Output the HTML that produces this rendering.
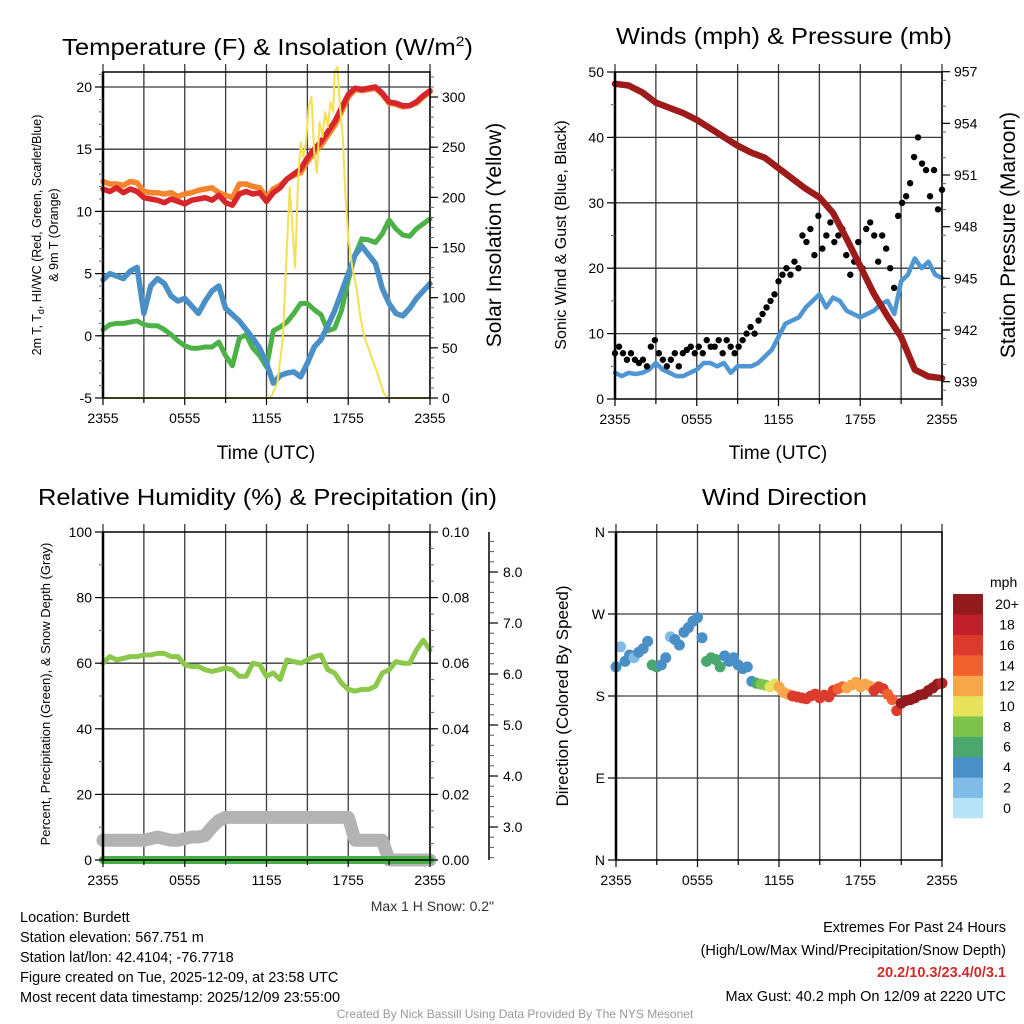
<!DOCTYPE html>
<html><head><meta charset="utf-8"><style>
html,body{margin:0;padding:0;background:#fff;}
svg{display:block;font-family:"Liberation Sans",sans-serif;}
</style></head><body>
<svg id="chart" width="1024" height="1024" viewBox="0 0 1024 1024">
<rect x="0" y="0" width="1024" height="1024" fill="#fff"/>
<g id="grid"></g>
<g id="series"></g>
<g id="axes"></g>
<g id="labels"></g>
<text x="62" y="55" font-size="23" textLength="411" lengthAdjust="spacingAndGlyphs">Temperature (F) &amp; Insolation (W/m<tspan font-size="14" dy="-9">2</tspan><tspan dy="9">)</tspan></text>
<text x="616" y="44" font-size="23" textLength="336" lengthAdjust="spacingAndGlyphs">Winds (mph) &amp; Pressure (mb)</text>
<text x="38" y="505" font-size="23" textLength="459" lengthAdjust="spacingAndGlyphs">Relative Humidity (%) &amp; Precipitation (in)</text>
<text x="702" y="505" font-size="23" textLength="165" lengthAdjust="spacingAndGlyphs">Wind Direction</text>
<text x="266" y="459" font-size="19" text-anchor="middle">Time (UTC)</text>
<text x="778" y="459" font-size="19" text-anchor="middle">Time (UTC)</text>
<text transform="translate(41,235) rotate(-90)" font-size="12.5" text-anchor="middle">2m T, T<tspan font-size="9" dy="3">d</tspan><tspan dy="-3">, HI/WC (Red, Green, Scarlet/Blue)</tspan></text>
<text transform="translate(58,235) rotate(-90)" font-size="12.5" text-anchor="middle">&amp; 9m T (Orange)</text>
<text transform="translate(501,235) rotate(-90)" font-size="21" text-anchor="middle">Solar Insolation (Yellow)</text>
<text transform="translate(566,235) rotate(-90)" font-size="16" text-anchor="middle">Sonic Wind &amp; Gust (Blue, Black)</text>
<text transform="translate(1015,235) rotate(-90)" font-size="21" text-anchor="middle">Station Pressure (Maroon)</text>
<text transform="translate(50,694) rotate(-90)" font-size="13" text-anchor="middle">Percent, Precipitation (Green), &amp; Snow Depth (Gray)</text>
<text transform="translate(568,696) rotate(-90)" font-size="17" text-anchor="middle">Direction (Colored By Speed)</text>
<text x="990" y="587" font-size="14">mph</text>
<text x="494" y="911" font-size="14" text-anchor="end" fill="#333">Max 1 H Snow: 0.2"</text>
<g font-size="14.5">
<text x="20" y="922">Location: Burdett</text>
<text x="20" y="942">Station elevation: 567.751 m</text>
<text x="20" y="962">Station lat/lon: 42.4104; -76.7718</text>
<text x="20" y="982">Figure created on Tue, 2025-12-09, at 23:58 UTC</text>
<text x="20" y="1002">Most recent data timestamp: 2025/12/09 23:55:00</text>
</g>
<g font-size="14.5" text-anchor="end">
<text x="1006" y="932">Extremes For Past 24 Hours</text>
<text x="1006" y="955">(High/Low/Max Wind/Precipitation/Snow Depth)</text>
<text x="1006" y="977" fill="#d42a2a" font-weight="bold">20.2/10.3/23.4/0/3.1</text>
<text x="1006" y="1001">Max Gust: 40.2 mph On 12/09 at 2220 UTC</text>
</g>
<text x="515" y="1018" font-size="12" fill="#999" text-anchor="middle">Created By Nick Bassill Using Data Provided By The NYS Mesonet</text>
</svg>
<script>
const timeLabels = ["2355","0555","1155","1755","2355"];
const tempRed = [11.8,11.6,11.9,11.5,11.8,11.6,11.1,11.0,10.9,10.7,11.0,10.8,10.6,10.9,11.0,11.1,10.9,11.3,10.7,10.5,11.4,11.6,11.4,11.5,10.8,11.5,11.9,12.6,13.0,13.4,14.3,15.0,15.6,16.4,17.2,18.3,19.4,19.9,19.8,19.9,20.0,19.5,18.8,18.7,18.5,18.5,18.8,19.3,19.7];
const temp9m = [12.4,12.2,12.2,12.1,12.4,12.3,11.6,11.5,11.5,11.4,11.5,11.2,11.4,11.5,11.7,11.8,11.9,11.5,11.3,11.1,12.2,12.2,12.0,11.9,11.1,11.8,12.1,12.6,12.9,13.1,14.0,14.7,15.3,16.1,16.9,18.0,19.2,19.8,19.7,19.8,19.9,19.4,18.7,18.6,18.4,18.5,18.7,19.2,19.6];
const windChill = [4.5,5.0,4.8,4.6,5.2,5.5,1.8,4.0,4.6,4.2,3.2,2.8,3.0,2.4,1.8,2.8,3.6,4.0,2.2,1.7,1.2,0.5,-0.2,-1.0,-2.2,-3.8,-3.2,-3.0,-2.9,-3.3,-2.2,-0.9,-0.3,0.8,2.0,3.5,5.0,6.5,7.2,6.5,5.8,3.8,2.6,1.8,1.6,2.2,3.0,3.6,4.2];
const dewpoint = [0.5,0.9,1.0,1.0,1.1,1.2,0.9,0.8,0.8,0.5,0.1,-0.4,-0.8,-1.0,-1.0,-0.9,-0.9,-0.5,-1.6,-2.4,-0.2,0.1,-1.0,-1.6,-2.5,0.4,0.7,1.1,1.8,2.6,2.6,2.1,1.7,0.4,0.6,2.0,4.5,6.5,7.8,7.7,7.5,8.2,9.3,8.6,8.1,8.0,8.6,9.0,9.4];
const solarHours = [0,12.3,12.8,13.2,13.5,13.7,13.9,14.1,14.3,14.5,14.7,14.9,15.1,15.3,15.5,15.7,15.9,16.1,16.3,16.5,16.7,16.9,17.0,17.2,17.4,17.6,17.8,18.0,18.3,18.6,18.9,19.2,19.6,20.0,20.3,20.6,20.9,24];
const solarValues = [0,0,15,60,150,210,170,130,210,255,240,255,290,300,245,225,275,260,285,270,295,285,325,330,290,260,200,160,130,110,80,60,45,30,18,5,0,0];
const pressure = [956.3,956.2,955.8,955.2,954.9,954.6,954.2,953.7,953.2,952.7,952.3,952.0,951.4,950.8,950.2,949.7,948.8,947.3,945.7,944.1,942.8,941.6,939.7,939.3,939.2];
const windSpeed = [4,3.5,4,3.8,4,4.5,5.5,4.5,4,3.5,3.5,4,4.5,5.5,5.5,5,5.5,4,5,5,5,5.5,6.5,7.5,9.5,11.5,12,12.5,14,15,16,14,15.5,15,13.5,13,12.5,13,13.5,14.5,15,13,18,19,21.5,20,21,19,18.5];
const windGust = [7,8,7,6,7,6,5.5,6,5,8,9,7,6,5,6,7,5,7,7.5,8,7,8,7,9,8,8,9,7,9,8,7,8,9,10,11,10,12,13,14,15,16,18,19,20,19,21,20,25,24,26,22,28,23,25,27,24,25,26,22,19,21,24,20,26,27,25,21,25,23,20,17,28,30,31,33,37,40,36,35,31,35,29,32];
const relHumidity = [60,62,61,61.5,62,62,62.5,62.5,63,63,62,62,59.5,59,59,58,57.5,58,58.5,58,56,56,60,59.5,56,57,55,61,60.5,60,61,62,62.5,58,57,54,52,51.5,52,52,53,57,58,60.5,60,60,64,67,64];
const snowDepthPct = [6,6,6,6,6,6,6,6.5,7,6.5,6,6,6.5,7,7,7.5,10,12,13,13,13,13,13,13,13,13,13,13,13,13,13,13,13,13,13,13,13,6,6,6,6,6,0,0,0,0,0,0,0];
const precip = [0,0,0,0,0,0,0,0,0,0,0,0,0,0,0,0,0,0,0,0,0,0,0,0,0,0,0,0,0,0,0,0,0,0,0,0,0,0,0,0,0,0,0,0,0,0,0,0,0];
const windDir = [212,234,218,225,222,228,232,240,214,212,214,222,245,242,236,250,255,262,266,244,218,222,220,212,224,218,222,214,210,212,196,194,193,192,190,193,190,184,182,180,179,178,177,180,182,178,181,179,186,188,190,189,192,195,190,193,191,186,190,188,182,176,164,172,175,176,178,181,182,186,189,193,194];
const dirSpeed = [4,3,4,4,3,4,4,4,6,6,4,4,3,4,4,4,4,4,4,5,7,6,7,6,5,4,4,4,4,4,5,7,8,9,10,11,13,12,13,17,17,16,17,16,17,16,17,16,16,15,14,13,13,12,13,12,13,16,17,16,15,14,16,20,21,21,21,20,21,20,21,20,19];
const colorbarLabels = ["0","2","4","6","8","10","12","14","16","18","20+"];
const colorbarColors = ["#b6e3f7","#80bce6","#4a8fc6","#4aa86f","#7cc24b","#e6e25a","#f7a64a","#f0612e","#dc3a2c","#c0202a","#931b1e"];

const NS="http://www.w3.org/2000/svg";
function mk(parent,tag,attrs){const e=document.createElementNS(NS,tag);for(const k in attrs)e.setAttribute(k,attrs[k]);parent.appendChild(e);return e;}
const G=document.getElementById('grid'),S=document.getElementById('series'),A=document.getElementById('axes'),L=document.getElementById('labels');

const P1={x0:103,x1:430,y0:72,y1:398},P2={x0:615,x1:942,y0:72,y1:399},P3={x0:103,x1:430,y0:532,y1:860},P4={x0:616,x1:942,y0:532,y1:860};
const xH=(P,h)=>P.x0+(P.x1-P.x0)*h/24;
const yTemp=v=>P1.y1-(v+5)*12.44;
const ySol=v=>P1.y1-v*1.0033;
const yWind=v=>P2.y1-v*6.54;
const yPres=p=>71.7+(957-p)*17.22;
const yRH=v=>P3.y1-v*3.28;
const yPrec=v=>P3.y1-v*3280;
const ySnow=v=>827-(v-3)*51;
const yDir=d=>P4.y1-d*(P4.y1-P4.y0)/360;

function frame(P,name,hLines){
  for(let h=0;h<=24;h+=3){const x=xH(P,h);
    const l=mk(G,'line',{x1:x,x2:x,y1:P.y0-8,y2:P.y1,stroke:'#3a3a3a','stroke-width':1.3});
    
    
    const t=mk(A,'line',{x1:x,x2:x,y1:P.y1,y2:P.y1+(h%6===0?7:5),stroke:'#000','stroke-width':1.2});
    
    }
  hLines.forEach(y=>{const l=mk(G,'line',{x1:P.x0,x2:P.x1,y1:y,y2:y,stroke:'#3a3a3a','stroke-width':1.3});
    
    });
  const b=mk(A,'rect',{x:P.x0,y:P.y0,width:P.x1-P.x0,height:P.y1-P.y0,fill:'none',stroke:'#000','stroke-width':1.5});
  
  
  mk(A,'line',{x1:P.x0,x2:P.x0,y1:P.y0,y2:P.y1,stroke:'#000','stroke-width':2.5});
  timeLabels.forEach((s,i)=>{const t=mk(L,'text',{x:xH(P,i*6),y:P.y1+25,'font-size':14,'text-anchor':'middle'});t.textContent=s;
    
    });
}
function yAxis(P,side,vals,fy,labels,name,minor){
  const x=side==='l'?P.x0:P.x1;
  minor.forEach(v=>{const y=fy(v);mk(A,'line',{x1:x,x2:x+(side==='l'?-4:4),y1:y,y2:y,stroke:'#666','stroke-width':1});});
  vals.forEach((v,i)=>{const y=fy(v);
    const tk=mk(A,'line',{x1:x,x2:x+(side==='l'?-8:8),y1:y,y2:y,stroke:'#000','stroke-width':1.2});
    
    
    const t=mk(L,'text',{x:side==='l'?x-11:x+12,y:y+5,'font-size':14,'text-anchor':side==='l'?'end':'start'});t.textContent=labels[i];
    
    });
}
function rng(a,b,s){const r=[];for(let v=a;v<=b+1e-9;v+=s)r.push(+v.toFixed(4));return r;}
function line(pts,color,w,name){
  const p=mk(S,'path',{d:'M'+pts.map(q=>q[0].toFixed(1)+','+q[1].toFixed(1)).join('L'),fill:'none',stroke:color,'stroke-width':w,'stroke-linejoin':'round','stroke-linecap':'round'});
  
  
  return p;
}
const half=(arr,P,fy)=>arr.map((v,i)=>[xH(P,i*24/(arr.length-1)),fy(v)]);

frame(P1,'temp',[20,15,10,5,0].map(yTemp));
yAxis(P1,'l',[20,15,10,5,0,-5],yTemp,["20","15","10","5","0","-5"],'temp-y',rng(-5,21,1));
yAxis(P1,'r',[0,50,100,150,200,250,300],ySol,["0","50","100","150","200","250","300"],'solar-y',rng(0,320,10));
line(half(dewpoint,P1,yTemp),'#4cb146',5,'dewpoint-line');
line(half(windChill,P1,yTemp),'#4a8fc6',5.5,'wind-chill-line');
line(half(temp9m,P1,yTemp),'#f5842c',5.5,'temp-9m-line');
line(half(tempRed,P1,yTemp),'#d7262b',5.5,'temp-2m-line');
line(solarHours.map((h,i)=>[xH(P1,h),ySol(solarValues[i])]),'#f5e050',2,'solar-line');

frame(P2,'wind',[40,30,20,10].map(yWind));
yAxis(P2,'l',[0,10,20,30,40,50],yWind,["0","10","20","30","40","50"],'wind-y',rng(0,50,5));
yAxis(P2,'r',[939,942,945,948,951,954,957],yPres,["939","942","945","948","951","954","957"],'pressure-y',rng(938.5,957,1.5));
line(half(windSpeed,P2,yWind),'#4f97d4',4.5,'wind-speed-line');
windGust.forEach((g,i)=>{const c=mk(S,'circle',{cx:xH(P2,i*24/(windGust.length-1)),cy:yWind(g),r:3.2,fill:'#000'});
  
  });
line(pressure.map((p,i)=>[xH(P2,i),yPres(p)]),'#9e1b1b',6.5,'pressure-line');

frame(P3,'rh',[80,60,40,20].map(yRH));
yAxis(P3,'l',[0,20,40,60,80,100],yRH,["0","20","40","60","80","100"],'rh-y',rng(0,100,10));
yAxis(P3,'r',[0,0.02,0.04,0.06,0.08,0.10],yPrec,["0.00","0.02","0.04","0.06","0.08","0.10"],'precip-y',rng(0,0.1,0.005));
const sa=mk(A,'line',{x1:489,x2:489,y1:532,y2:860,stroke:'#000','stroke-width':1.5});


rng(2.4,8.7,0.2).forEach(v=>mk(A,'line',{x1:489,x2:494,y1:ySnow(v),y2:ySnow(v),stroke:'#555','stroke-width':1}));
[3,4,5,6,7,8].forEach(v=>{mk(A,'line',{x1:489,x2:498,y1:ySnow(v),y2:ySnow(v),stroke:'#000','stroke-width':1.2});
  const t=mk(L,'text',{x:503,y:ySnow(v)+5,'font-size':14});t.textContent=v.toFixed(1);
  
  });
line(half(snowDepthPct,P3,yRH),'#b3b3b3',13,'snow-depth-line');
line(half(precip,P3,yPrec),'#48b045',8,'precip-line');
line(half(relHumidity,P3,yRH),'#8cc84b',5,'rh-line');

frame(P4,'dir',[270,180,90].map(yDir));
yAxis(P4,'l',[0,90,180,270,360],yDir,["N","E","S","W","N"],'dir-y',[]);
windDir.forEach((d,i)=>{const b=Math.min(10,Math.floor(dirSpeed[i]/2));
  const c=mk(S,'circle',{cx:xH(P4,i*24/(windDir.length-1)),cy:yDir(d),r:5.5,fill:colorbarColors[b]});
  
  });
const bh=(818-594)/colorbarLabels.length;
colorbarLabels.forEach((s,i)=>{const y=818-(i+1)*bh;
  const r=mk(A,'rect',{x:953,y:y,width:30,height:bh+0.3,fill:colorbarColors[i]});
  
  
  const t=mk(L,'text',{x:1007,y:y+bh/2+5,'font-size':14,'text-anchor':'middle'});t.textContent=s;
  
  });
</script>
</body></html>
